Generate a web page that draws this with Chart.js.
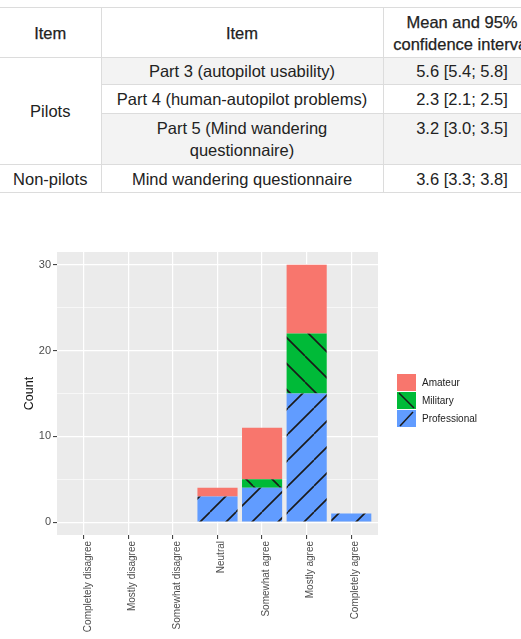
<!DOCTYPE html>
<html>
<head>
<meta charset="utf-8">
<script src="https://cdn.jsdelivr.net/npm/chart.js"></script>
<style>
  html, body { margin: 0; padding: 0; background: #fff; }
  body { width: 521px; height: 639px; overflow: hidden; position: relative; }
  table {
    position: absolute; top: 7px; left: 0;
    border-collapse: collapse; table-layout: fixed; width: 541px;
    font-family: "Liberation Sans", Arial, sans-serif; font-size: 16.5px; color: #222;
  }
  td, th { border: 1px solid #dcdcdc; text-align: center; padding: 0 6px; line-height: 22px; font-weight: normal; }
  tr > :first-child { border-left: none; }
  th { -webkit-text-stroke: 0.25px #222; }
  .shade td.alt { background: #f3f3f3; }
  #chartBox { position: absolute; left: 0; top: 200px; width: 521px; height: 439px; }
</style>
</head>
<body>
<table>
  <colgroup><col style="width:101px"><col style="width:282px"><col style="width:158px"></colgroup>
  <tr style="height:50px"><th>Item</th><th>Item</th><th>Mean and 95%<br>confidence interval</th></tr>
  <tr class="shade" style="height:27px"><td rowspan="3">Pilots</td><td class="alt">Part 3 (autopilot usability)</td><td class="alt">5.6 [5.4; 5.8]</td></tr>
  <tr style="height:29px"><td>Part 4 (human-autopilot problems)</td><td>2.3 [2.1; 2.5]</td></tr>
  <tr class="shade" style="height:51px"><td class="alt">Part 5 (Mind wandering<br>questionnaire)</td><td class="alt" style="vertical-align:top;padding-top:3px">3.2 [3.0; 3.5]</td></tr>
  <tr style="height:28px"><td>Non-pilots</td><td>Mind wandering questionnaire</td><td>3.6 [3.3; 3.8]</td></tr>
</table>

<div id="chartBox"><canvas id="likertChart" width="521" height="439"></canvas></div>

<script>
// answer categories and counts per pilot group
const categories = ['Completely disagree', 'Mostly disagree', 'Somewhat disagree', 'Neutral',
                    'Somewhat agree', 'Mostly agree', 'Completely agree'];
const professional = [0, 0, 0, 3, 4, 15, 1];
const military = [0, 0, 0, 0, 1, 7, 0];
const amateur = [0, 0, 0, 1, 6, 8, 0];
const yMajor = [0, 10, 20, 30];
const yMinor = [5, 15, 25];

const canvas = document.getElementById('likertChart');
const ctx = canvas.getContext('2d');

// striped fill like ggpattern
function hatch(color, dir, shift) {
    const size = 26;
    const c = document.createElement('canvas');
    c.width = size; c.height = size;
    const g = c.getContext('2d');
    g.fillStyle = color;
    g.fillRect(0, 0, size, size);
    g.strokeStyle = '#1a1a1a';
    g.lineWidth = 1.6;
    g.beginPath();
    for (let k = -1; k <= 1; k++) {
        if (dir === '/') { g.moveTo(k * size, size); g.lineTo(k * size + size, 0); }
        else { g.moveTo(k * size, 0); g.lineTo(k * size + size, size); }
    }
    g.stroke();
    const p = ctx.createPattern(c, 'repeat');
    p.setTransform(new DOMMatrix().translate(shift, 0));
    return p;
}

const toPoints = arr => arr.map((v, i) => ({ x: i, y: v }));

// grey ggplot panel
const panelBg = {
    id: 'panelBg',
    beforeDraw(chart) {
        const { ctx, chartArea: { left, top, width, height } } = chart;
        ctx.save();
        ctx.fillStyle = '#EBEBEB';
        ctx.fillRect(left, top, width, height);
        ctx.restore();
    }
};

// legend with hatched keys, top to bottom = reverse stacking
const hatchLegend = {
    id: 'hatchLegend',
    afterDraw(chart) {
        const { ctx } = chart;
        const sets = chart.data.datasets.slice().reverse();
        const x = 397, w = 19, h = 17;
        let y = 174;
        ctx.save();
        sets.forEach(ds => {
            ctx.fillStyle = ds.keyColor;
            ctx.fillRect(x, y, w, h);
            if (ds.hatchDir) {
                ctx.strokeStyle = '#1a1a1a';
                ctx.lineWidth = 1.5;
                ctx.beginPath();
                if (ds.hatchDir === '/') { ctx.moveTo(x + 3, y + h - 1); ctx.lineTo(x + w - 3, y + 2); }
                else { ctx.moveTo(x + 2, y + 1); ctx.lineTo(x + w - 2, y + h - 1); }
                ctx.stroke();
            }
            ctx.fillStyle = '#222';
            ctx.font = '10px "Liberation Sans", Arial, sans-serif';
            ctx.textBaseline = 'middle';
            ctx.fillText(ds.label, x + w + 6, y + h / 2 + 0.5);
            y += h + 1;
        });
        ctx.restore();
    }
};

new Chart(ctx, {
    type: 'bar',
    data: {
        datasets: [
            { label: 'Professional', data: toPoints(professional), backgroundColor: hatch('#619CFF', '/', 2), keyColor: '#619CFF', hatchDir: '/' },
            { label: 'Military', data: toPoints(military), backgroundColor: hatch('#00BA38', '\\', 19), keyColor: '#00BA38', hatchDir: '\\' },
            { label: 'Amateur', data: toPoints(amateur), backgroundColor: '#F8766D', keyColor: '#F8766D' }
        ]
    },
    options: {
        responsive: false,
        animation: false,
        layout: { padding: { left: 0, top: 52, right: 143, bottom: 0 } },
        datasets: { bar: { barPercentage: 0.9, categoryPercentage: 1, borderWidth: 0 } },
        plugins: { legend: { display: false }, tooltip: { enabled: false } },
        scales: {
            x: {
                type: 'linear', stacked: true, offset: false, min: -0.6, max: 6.6,
                afterBuildTicks: s => { s.ticks = categories.map((c, i) => ({ value: i })); },
                afterFit: s => { s.height = 104; },
                ticks: {
                    callback: v => categories[v],
                    autoSkip: false, minRotation: 90, maxRotation: 90,
                    color: '#4d4d4d', padding: 2, labelOffset: 4,
                    font: { family: '"Liberation Sans", Arial, sans-serif', size: 10 }
                },
                grid: { color: '#fff', lineWidth: 1.2, tickLength: 4, tickColor: '#333', tickWidth: 1, offset: false },
                border: { display: false }
            },
            y: {
                stacked: true, min: -1.5, max: 31.5,
                afterBuildTicks: s => { s.ticks = yMajor.concat(yMinor).sort((a, b) => a - b).map(v => ({ value: v })); },
                afterFit: s => { s.width = 57; },
                ticks: {
                    callback: v => yMajor.includes(v) ? v : '',
                    color: '#4d4d4d', padding: 2,
                    font: { family: '"Liberation Sans", Arial, sans-serif', size: 11 }
                },
                grid: {
                    color: '#fff',
                    lineWidth: c => c.tick && yMajor.includes(c.tick.value) ? 1.2 : 0.6,
                    tickLength: 4,
                    tickWidth: 1,
                    tickColor: c => c.tick && yMajor.includes(c.tick.value) ? '#333' : 'rgba(0,0,0,0)'
                },
                border: { display: false },
                title: {
                    display: true, text: 'Count', color: '#111',
                    font: { family: '"Liberation Sans", Arial, sans-serif', size: 12.5 },
                    padding: { top: 22, bottom: 0 }
                }
            }
        }
    },
    plugins: [panelBg, hatchLegend]
});
</script>
</body>
</html>
